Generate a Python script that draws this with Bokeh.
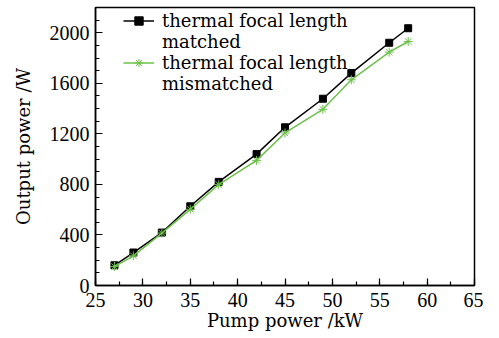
from bokeh.plotting import figure
from bokeh.models import SingleIntervalTicker, Legend, LegendItem, Range1d
from bokeh.embed import file_html
from bokeh.resources import INLINE

pump = [27, 29, 32, 35, 38, 42, 45, 49, 52, 56, 58]
matched = [160, 261, 419, 627, 820, 1040, 1252, 1478, 1681, 1921, 2036]
mismatched = [150, 235, 415, 603, 798, 990, 1207, 1394, 1628, 1847, 1931]
label_first = "thermal focal length"
label_matched = "matched"
label_mismatched = "mismatched"
x_title = "Pump power /kW"
y_title = "Output power /W"

FONT = "DejaVu Serif"
TICKFONT = "Liberation Serif"
GREEN = "#6cc04a"

W, H = 483, 333
LEFT, RIGHT, TOP = 95, 9, 7
FW, FH = W - LEFT - RIGHT, 279
BOTTOM = H - TOP - FH

p = figure(width=W, height=H, output_backend="svg", toolbar_location=None,
           x_range=Range1d(25, 65), y_range=Range1d(0, 2200),
           min_border_left=LEFT, min_border_right=RIGHT, min_border_top=TOP,
           min_border_bottom=BOTTOM)
p.background_fill_color = "white"
p.border_fill_color = "white"
p.outline_line_color = "black"
p.outline_line_width = 1.5
p.xgrid.visible = False
p.ygrid.visible = False

p.xaxis.ticker = SingleIntervalTicker(interval=5, num_minor_ticks=2)
p.yaxis.ticker = SingleIntervalTicker(interval=400, num_minor_ticks=4)
for ax in (p.xaxis[0], p.yaxis[0]):
    ax.major_tick_in = 7
    ax.major_tick_out = 0
    ax.minor_tick_in = 4
    ax.minor_tick_out = 0
    ax.axis_line_width = 1.5
    ax.major_tick_line_width = 1.2
    ax.minor_tick_line_width = 1.2
    ax.major_label_text_font = TICKFONT
    ax.major_label_text_font_size = "20px"
    ax.major_label_text_color = "black"
    ax.axis_label_text_font = FONT
    ax.axis_label_text_font_size = "18px"
    ax.axis_label_text_font_style = "normal"
    ax.axis_label_text_color = "black"
p.xaxis.axis_label = x_title
p.yaxis.axis_label = y_title
p.xaxis.major_label_standoff = 7
p.xaxis.axis_label_standoff = 0
p.yaxis.major_label_standoff = 6
p.yaxis.axis_label_standoff = 13

l1 = p.line(pump, matched, line_color="black", line_width=1.5)
m1 = p.scatter(pump, matched, marker="square", size=7, fill_color="black", line_color="black")
l2 = p.line(pump, mismatched, line_color=GREEN, line_width=1.5)
m2 = p.scatter(pump, mismatched, marker="asterisk", size=9, line_color=GREEN, line_width=1)
blank = p.line(x=[], y=[], line_alpha=0)

ITEM_H = 21
legend = Legend(items=[LegendItem(label=label_first, renderers=[l1, m1]),
                       LegendItem(label=label_matched, renderers=[blank]),
                       LegendItem(label=label_first, renderers=[l2, m2]),
                       LegendItem(label=label_mismatched, renderers=[blank])],
                border_line_color=None, background_fill_alpha=0,
                label_text_font=FONT, label_text_font_size="18px", label_text_color="black",
                label_height=ITEM_H, glyph_height=ITEM_H,
                glyph_width=31, margin=0, padding=0, spacing=0, label_standoff=8)
legend.location = (28, FH - 4 - 4 * ITEM_H)
p.add_layout(legend)

open("out.html", "w").write(file_html(p, INLINE))
